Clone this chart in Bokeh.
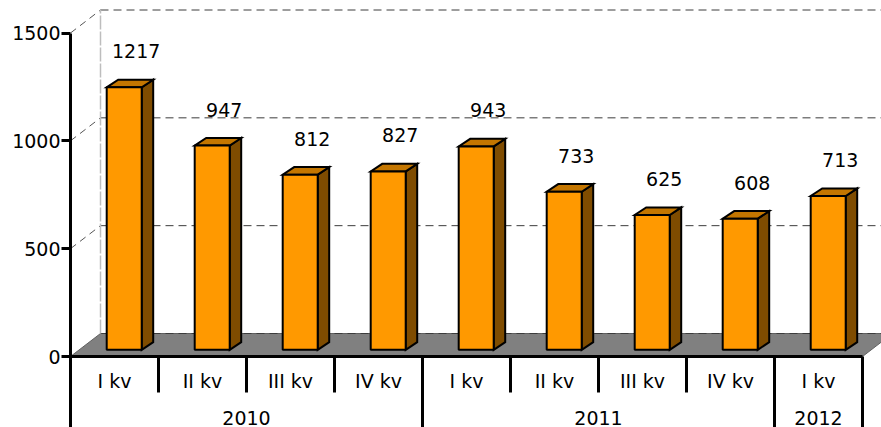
import numpy as np
from bokeh.plotting import figure
from bokeh.models import Range1d, FixedTicker, ColumnDataSource
from bokeh.core.properties import value
from bokeh.embed import file_html
from bokeh.resources import INLINE

# ---- data ----
quarters = ["I kv", "II kv", "III kv", "IV kv", "I kv", "II kv", "III kv", "IV kv", "I kv"]
years = ["2010", "2011", "2012"]
year_sizes = [4, 4, 1]
values = [1217, 947, 812, 827, 943, 733, 625, 608, 713]
y_ticks = [0, 500, 1000, 1500]

FONT = "DejaVu Sans"
FS = "19px"

# ---- geometry (pixel constants -> data units) ----
W, H = 881, 427
left_border = 70
frame_w = W - left_border
cat_px = 88.0
k = 323.5 / 1500.0            # px per value unit
y0_canvas = 356.0             # canvas y of value 0
y_end = 1500 + 32.5 / k
y_start = -(H - y0_canvas) / k
x_end = frame_w / cat_px

def px_x(p):
    return p / cat_px

def px_y(p):
    return p / k

WALL_DX, WALL_DY = px_x(30), px_y(23)
BF_DX, BF_DY = px_x(9.7), px_y(6.7)       # bar front position inside floor depth
BD_DX, BD_DY = px_x(11.5), px_y(7.6)      # bar depth
BAR_W = px_x(35)

p = figure(width=W, height=H, output_backend="svg", toolbar_location=None,
           x_range=Range1d(0, x_end), y_range=Range1d(y_start, y_end),
           min_border_left=left_border, min_border_right=0,
           min_border_top=0, min_border_bottom=0)
p.outline_line_color = None
p.xaxis.visible = False
p.xgrid.visible = False
p.ygrid.visible = False
p.background_fill_color = "white"

yax = p.yaxis[0]
yax.ticker = FixedTicker(ticks=y_ticks)
yax.bounds = (y_start, 1500)
yax.axis_line_width = 3
yax.axis_line_color = "black"
yax.major_tick_line_width = 3
yax.major_tick_out = 9
yax.major_tick_in = 0
yax.minor_tick_out = 0
yax.minor_tick_in = 0
yax.major_label_standoff = 1
yax.major_label_text_font = FONT
yax.major_label_text_font_size = FS
yax.major_label_text_color = "black"

n = len(values)
ncat = n

# ---- floor ----
p.patch([0, ncat, ncat + WALL_DX, WALL_DX], [0, 0, WALL_DY, WALL_DY],
        fill_color="#808080", line_color="#606060", line_width=1)

# ---- back wall grid lines and diagonals ----
grid_vals = [v for v in y_ticks]
p.segment(x0=[WALL_DX] * len(grid_vals), y0=[v + WALL_DY for v in grid_vals],
          x1=[x_end + 1] * len(grid_vals), y1=[v + WALL_DY for v in grid_vals],
          line_color="#3c3c3c", line_width=1, line_dash="8 5")
p.segment(x0=[0] * (len(grid_vals) - 1), y0=grid_vals[1:],
          x1=[WALL_DX] * (len(grid_vals) - 1), y1=[v + WALL_DY for v in grid_vals[1:]],
          line_color="#555555", line_width=1, line_dash="7 5")
p.segment(x0=[WALL_DX], y0=[WALL_DY], x1=[WALL_DX], y1=[max(y_ticks) + WALL_DY],
          line_color="#bdbdbd", line_width=1.5, line_dash="14 2")

# ---- bars ----
centers = np.arange(n) + 0.5
vals = np.array(values, dtype=float)
left = centers + BF_DX - BAR_W / 2
right = centers + BF_DX + BAR_W / 2
bottom = np.full(n, BF_DY)
top = vals + BF_DY

side_xs = [[r, r + BD_DX, r + BD_DX, r] for r in right]
side_ys = [[b, b + BD_DY, t + BD_DY, t] for b, t in zip(bottom, top)]
top_xs = [[l, r, r + BD_DX, l + BD_DX] for l, r in zip(left, right)]
top_ys = [[t, t, t + BD_DY, t + BD_DY] for t in top]

p.patches(side_xs, side_ys, fill_color="#7F4C00", line_color="black", line_width=2,
          line_join="miter")
p.patches(top_xs, top_ys, fill_color="#C47600", line_color="black", line_width=2,
          line_join="miter")
p.quad(left=left, right=right, bottom=bottom, top=top,
       fill_color="#FF9900", line_color="black", line_width=2)

# ---- value labels ----
lab_src = ColumnDataSource(dict(x=centers + BF_DX + px_x(12), y=top + px_y(36),
                                t=[str(v) for v in values]))
p.text(x="x", y="y", text="t", source=lab_src, text_align="center",
       text_baseline="middle", text_font=value(FONT), text_font_size=FS,
       text_color="black")

# ---- category axis ----
p.segment(x0=[0], y0=[0], x1=[ncat], y1=[0], line_color="black", line_width=3)
year_bounds = np.cumsum(year_sizes)
short_b = [b for b in range(1, ncat) if b not in set(year_bounds)]
p.segment(x0=short_b, y0=[0] * len(short_b), x1=short_b,
          y1=[-px_y(36)] * len(short_b), line_color="black", line_width=3)
long_b = list(year_bounds)
p.segment(x0=long_b, y0=[0] * len(long_b), x1=long_b,
          y1=[y_start] * len(long_b), line_color="black", line_width=3)

q_src = ColumnDataSource(dict(x=centers, y=[-px_y(24)] * n, t=quarters))
p.text(x="x", y="y", text="t", source=q_src, text_align="center",
       text_baseline="middle", text_font=value(FONT), text_font_size=FS,
       text_color="black")
starts = np.concatenate([[0], year_bounds[:-1]])
y_centers = (starts + year_bounds) / 2.0
y_src = ColumnDataSource(dict(x=y_centers, y=[-px_y(61)] * len(years), t=years))
p.text(x="x", y="y", text="t", source=y_src, text_align="center",
       text_baseline="middle", text_font=value(FONT), text_font_size=FS,
       text_color="black")

open("out.html", "w").write(file_html(p, INLINE))
